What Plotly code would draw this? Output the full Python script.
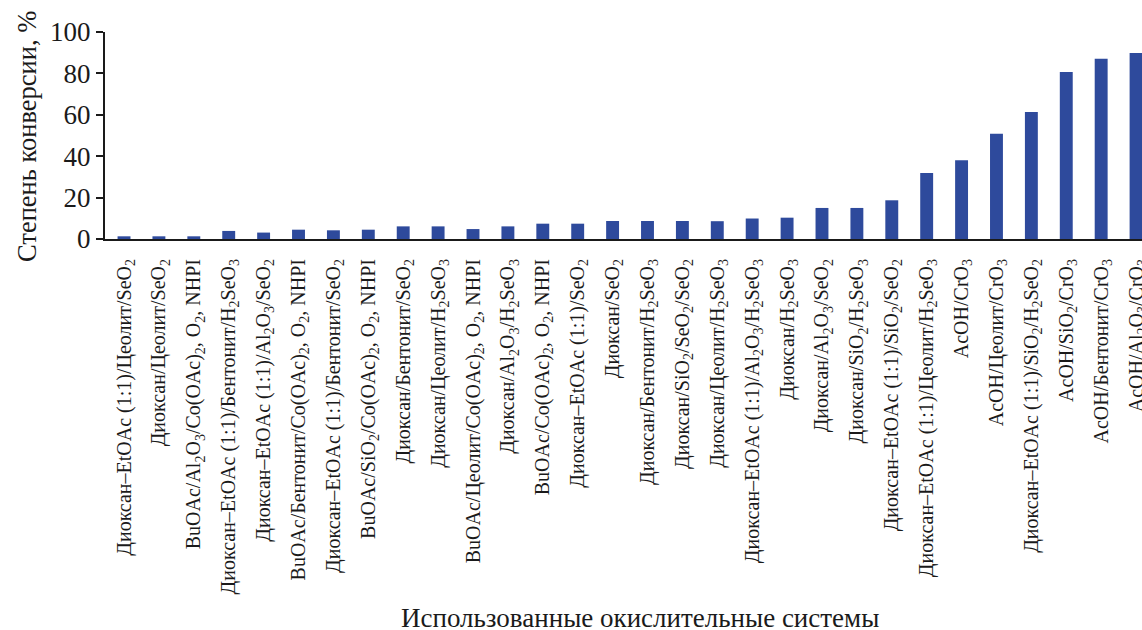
import plotly.graph_objects as go

labels = [
    "Диоксан–EtOAc (1:1)/Цеолит/SeO<sub>2</sub>",
    "Диоксан/Цеолит/SeO<sub>2</sub>",
    "BuOAc/Al<sub>2</sub>O<sub>3</sub>/Co(OAc)<sub>2</sub>, O<sub>2</sub>, NHPI",
    "Диоксан–EtOAc (1:1)/Бентонит/H<sub>2</sub>SeO<sub>3</sub>",
    "Диоксан–EtOAc (1:1)/Al<sub>2</sub>O<sub>3</sub>/SeO<sub>2</sub>",
    "BuOAc/Бентонит/Co(OAc)<sub>2</sub>, O<sub>2</sub>, NHPI",
    "Диоксан–EtOAc (1:1)/Бентонит/SeO<sub>2</sub>",
    "BuOAc/SiO<sub>2</sub>/Co(OAc)<sub>2</sub>, O<sub>2</sub>, NHPI",
    "Диоксан/Бентонит/SeO<sub>2</sub>",
    "Диоксан/Цеолит/H<sub>2</sub>SeO<sub>3</sub>",
    "BuOAc/Цеолит/Co(OAc)<sub>2</sub>, O<sub>2</sub>, NHPI",
    "Диоксан/Al<sub>2</sub>O<sub>3</sub>/H<sub>2</sub>SeO<sub>3</sub>",
    "BuOAc/Co(OAc)<sub>2</sub>, O<sub>2</sub>, NHPI",
    "Диоксан–EtOAc (1:1)/SeO<sub>2</sub>",
    "Диоксан/SeO<sub>2</sub>",
    "Диоксан/Бентонит/H<sub>2</sub>SeO<sub>3</sub>",
    "Диоксан/SiO<sub>2</sub>/SeO<sub>2</sub>/SeO<sub>2</sub>",
    "Диоксан/Цеолит/H<sub>2</sub>SeO<sub>3</sub>",
    "Диоксан–EtOAc (1:1)/Al<sub>2</sub>O<sub>3</sub>/H<sub>2</sub>SeO<sub>3</sub>",
    "Диоксан/H<sub>2</sub>SeO<sub>3</sub>",
    "Диоксан/Al<sub>2</sub>O<sub>3</sub>/SeO<sub>2</sub>",
    "Диоксан/SiO<sub>2</sub>/H<sub>2</sub>SeO<sub>3</sub>",
    "Диоксан–EtOAc (1:1)/SiO<sub>2</sub>/SeO<sub>2</sub>",
    "Диоксан–EtOAc (1:1)/Цеолит/H<sub>2</sub>SeO<sub>3</sub>",
    "AcOH/CrO<sub>3</sub>",
    "AcOH/Цеолит/CrO<sub>3</sub>",
    "Диоксан–EtOAc (1:1)/SiO<sub>2</sub>/H<sub>2</sub>SeO<sub>2</sub>",
    "AcOH/SiO<sub>2</sub>/CrO<sub>3</sub>",
    "AcOH/Бентонит/CrO<sub>3</sub>",
    "AcOH/Al<sub>2</sub>O<sub>3</sub>/CrO<sub>3</sub>",
]

conversion = [1.3, 1.3, 1.3, 3.9, 3.1, 4.5, 4.2, 4.5, 6.1, 6.1,
              4.8, 6.1, 7.4, 7.4, 8.7, 8.7, 8.7, 8.6, 9.9, 10.3,
              15.0, 15.0, 18.7, 31.9, 38.0, 50.9, 61.4, 80.7, 87.1, 89.9]

y_ticks = [0, 20, 40, 60, 80, 100]

positions = list(range(len(labels)))

FONT = "Liberation Serif, Times New Roman, serif"

fig = go.Figure()
fig.add_trace(go.Bar(
    x=positions,
    y=conversion,
    width=0.37,
    marker=dict(color="#2e4a9c", line=dict(width=0)),
    showlegend=False,
))

fig.update_layout(
    width=1142,
    height=630,
    margin=dict(l=105, r=0, t=32, b=391),
    paper_bgcolor="white",
    plot_bgcolor="white",
    font=dict(family=FONT, color="#1a1a1a"),
    xaxis=dict(
        tickmode="array",
        tickvals=positions,
        ticktext=labels,
        tickangle=-90,
        range=[-0.545, 29.17],
        showline=True,
        linecolor="#1a1a1a",
        linewidth=2,
        ticks="",
        ticklabelstandoff=10,
        ticklabeloverflow="allow",
        tickfont=dict(family=FONT, size=20, color="#1a1a1a"),
        showgrid=False,
        zeroline=False,
        automargin=False,
    ),
    yaxis=dict(
        range=[0, 100],
        tickmode="array",
        tickvals=y_ticks,
        showline=True,
        linecolor="#1a1a1a",
        linewidth=2,
        ticks="outside",
        ticklen=7,
        tickwidth=2,
        tickcolor="#1a1a1a",
        tickfont=dict(family=FONT, size=27, color="#1a1a1a"),
        showgrid=False,
        zeroline=False,
        automargin=False,
    ),
    annotations=[
        dict(
            text="Степень конверсии, %",
            xref="paper", yref="paper",
            x=-105 / 1037 + 27 / 1037, y=(239 - 137) / 207,
            xanchor="center", yanchor="middle",
            textangle=-90, showarrow=False,
            font=dict(family=FONT, size=26.5, color="#1a1a1a"),
        ),
        dict(
            text="Использованные окислительные системы",
            xref="paper", yref="paper",
            x=(640 - 105) / 1037, y=-(618 - 239) / 207,
            xanchor="center", yanchor="middle",
            showarrow=False,
            font=dict(family=FONT, size=27, color="#1a1a1a"),
        ),
    ],
)

fig.write_html("out.html")
